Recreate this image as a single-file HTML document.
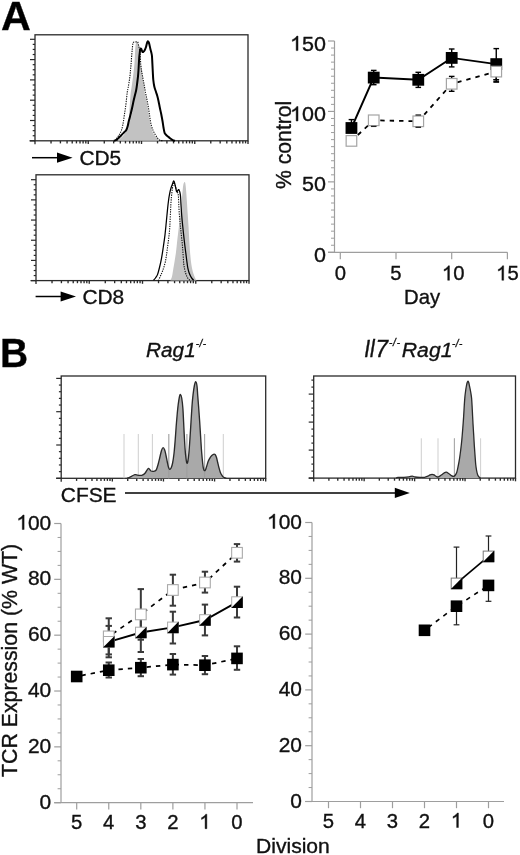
<!DOCTYPE html>
<html><head><meta charset="utf-8"><style>
html,body{margin:0;padding:0;background:#fff;width:520px;height:855px;overflow:hidden}
svg{display:block;will-change:transform}
text{font-family:"Liberation Sans",sans-serif;stroke:#111;stroke-width:0.35px}
</style></head><body>
<svg width="520" height="855" viewBox="0 0 520 855">
<rect width="520" height="855" fill="#fff"/>
<text x="1" y="30" font-size="41.3" text-anchor="start" font-weight="bold" font-style="normal" fill="#000" >A</text>
<text x="0" y="0" font-size="41.5" text-anchor="start" font-weight="bold" font-style="normal" fill="#000" transform="translate(0.1,366.6) scale(0.94,1)" >B</text>
<line x1="30" y1="39.3" x2="35" y2="39.3" stroke="#2a2a2a" stroke-width="1.2" />
<line x1="30" y1="59.6" x2="35" y2="59.6" stroke="#2a2a2a" stroke-width="1.2" />
<line x1="30" y1="79.9" x2="35" y2="79.9" stroke="#2a2a2a" stroke-width="1.2" />
<line x1="30" y1="100.2" x2="35" y2="100.2" stroke="#2a2a2a" stroke-width="1.2" />
<line x1="30" y1="120.5" x2="35" y2="120.5" stroke="#2a2a2a" stroke-width="1.2" />
<line x1="30" y1="140.8" x2="35" y2="140.8" stroke="#2a2a2a" stroke-width="1.2" />
<line x1="32.7" y1="44.38" x2="35" y2="44.38" stroke="#2a2a2a" stroke-width="1.2" />
<line x1="32.7" y1="49.45" x2="35" y2="49.45" stroke="#2a2a2a" stroke-width="1.2" />
<line x1="32.7" y1="54.52" x2="35" y2="54.52" stroke="#2a2a2a" stroke-width="1.2" />
<line x1="32.7" y1="64.67" x2="35" y2="64.67" stroke="#2a2a2a" stroke-width="1.2" />
<line x1="32.7" y1="69.75" x2="35" y2="69.75" stroke="#2a2a2a" stroke-width="1.2" />
<line x1="32.7" y1="74.83" x2="35" y2="74.83" stroke="#2a2a2a" stroke-width="1.2" />
<line x1="32.7" y1="84.98" x2="35" y2="84.98" stroke="#2a2a2a" stroke-width="1.2" />
<line x1="32.7" y1="90.05" x2="35" y2="90.05" stroke="#2a2a2a" stroke-width="1.2" />
<line x1="32.7" y1="95.12" x2="35" y2="95.12" stroke="#2a2a2a" stroke-width="1.2" />
<line x1="32.7" y1="105.28" x2="35" y2="105.28" stroke="#2a2a2a" stroke-width="1.2" />
<line x1="32.7" y1="110.35" x2="35" y2="110.35" stroke="#2a2a2a" stroke-width="1.2" />
<line x1="32.7" y1="115.42" x2="35" y2="115.42" stroke="#2a2a2a" stroke-width="1.2" />
<line x1="32.7" y1="125.58" x2="35" y2="125.58" stroke="#2a2a2a" stroke-width="1.2" />
<line x1="32.7" y1="130.65" x2="35" y2="130.65" stroke="#2a2a2a" stroke-width="1.2" />
<line x1="32.7" y1="135.73" x2="35" y2="135.73" stroke="#2a2a2a" stroke-width="1.2" />
<line x1="51.03" y1="140.8" x2="51.03" y2="143.4" stroke="#2a2a2a" stroke-width="1.35" />
<line x1="60.41" y1="140.8" x2="60.41" y2="143.4" stroke="#2a2a2a" stroke-width="1.35" />
<line x1="67.06" y1="140.8" x2="67.06" y2="143.4" stroke="#2a2a2a" stroke-width="1.35" />
<line x1="72.22" y1="140.8" x2="72.22" y2="143.4" stroke="#2a2a2a" stroke-width="1.35" />
<line x1="76.44" y1="140.8" x2="76.44" y2="143.4" stroke="#2a2a2a" stroke-width="1.35" />
<line x1="80" y1="140.8" x2="80" y2="143.4" stroke="#2a2a2a" stroke-width="1.35" />
<line x1="83.09" y1="140.8" x2="83.09" y2="143.4" stroke="#2a2a2a" stroke-width="1.35" />
<line x1="85.81" y1="140.8" x2="85.81" y2="143.4" stroke="#2a2a2a" stroke-width="1.35" />
<line x1="88.25" y1="140.8" x2="88.25" y2="144" stroke="#2a2a2a" stroke-width="1.35" />
<line x1="104.28" y1="140.8" x2="104.28" y2="143.4" stroke="#2a2a2a" stroke-width="1.35" />
<line x1="113.66" y1="140.8" x2="113.66" y2="143.4" stroke="#2a2a2a" stroke-width="1.35" />
<line x1="120.31" y1="140.8" x2="120.31" y2="143.4" stroke="#2a2a2a" stroke-width="1.35" />
<line x1="125.47" y1="140.8" x2="125.47" y2="143.4" stroke="#2a2a2a" stroke-width="1.35" />
<line x1="129.69" y1="140.8" x2="129.69" y2="143.4" stroke="#2a2a2a" stroke-width="1.35" />
<line x1="133.25" y1="140.8" x2="133.25" y2="143.4" stroke="#2a2a2a" stroke-width="1.35" />
<line x1="136.34" y1="140.8" x2="136.34" y2="143.4" stroke="#2a2a2a" stroke-width="1.35" />
<line x1="139.06" y1="140.8" x2="139.06" y2="143.4" stroke="#2a2a2a" stroke-width="1.35" />
<line x1="141.5" y1="140.8" x2="141.5" y2="144" stroke="#2a2a2a" stroke-width="1.35" />
<line x1="157.53" y1="140.8" x2="157.53" y2="143.4" stroke="#2a2a2a" stroke-width="1.35" />
<line x1="166.91" y1="140.8" x2="166.91" y2="143.4" stroke="#2a2a2a" stroke-width="1.35" />
<line x1="173.56" y1="140.8" x2="173.56" y2="143.4" stroke="#2a2a2a" stroke-width="1.35" />
<line x1="178.72" y1="140.8" x2="178.72" y2="143.4" stroke="#2a2a2a" stroke-width="1.35" />
<line x1="182.94" y1="140.8" x2="182.94" y2="143.4" stroke="#2a2a2a" stroke-width="1.35" />
<line x1="186.5" y1="140.8" x2="186.5" y2="143.4" stroke="#2a2a2a" stroke-width="1.35" />
<line x1="189.59" y1="140.8" x2="189.59" y2="143.4" stroke="#2a2a2a" stroke-width="1.35" />
<line x1="192.31" y1="140.8" x2="192.31" y2="143.4" stroke="#2a2a2a" stroke-width="1.35" />
<line x1="194.75" y1="140.8" x2="194.75" y2="144" stroke="#2a2a2a" stroke-width="1.35" />
<line x1="210.78" y1="140.8" x2="210.78" y2="143.4" stroke="#2a2a2a" stroke-width="1.35" />
<line x1="220.16" y1="140.8" x2="220.16" y2="143.4" stroke="#2a2a2a" stroke-width="1.35" />
<line x1="226.81" y1="140.8" x2="226.81" y2="143.4" stroke="#2a2a2a" stroke-width="1.35" />
<line x1="231.97" y1="140.8" x2="231.97" y2="143.4" stroke="#2a2a2a" stroke-width="1.35" />
<line x1="236.19" y1="140.8" x2="236.19" y2="143.4" stroke="#2a2a2a" stroke-width="1.35" />
<line x1="239.75" y1="140.8" x2="239.75" y2="143.4" stroke="#2a2a2a" stroke-width="1.35" />
<line x1="242.84" y1="140.8" x2="242.84" y2="143.4" stroke="#2a2a2a" stroke-width="1.35" />
<line x1="245.56" y1="140.8" x2="245.56" y2="143.4" stroke="#2a2a2a" stroke-width="1.35" />
<line x1="248" y1="140.8" x2="248" y2="144" stroke="#2a2a2a" stroke-width="1.35" />
<line x1="35" y1="140.8" x2="35" y2="144.3" stroke="#2a2a2a" stroke-width="1.3" />
<rect x="35" y="34.8" width="213" height="106" fill="none" stroke="#2a2a2a" stroke-width="1.3"/>
<line x1="29.5" y1="140.8" x2="35" y2="140.8" stroke="#2a2a2a" stroke-width="1.3" />
<path d="M117.5,140.8 C117.93,140.42 119.18,139.3 120.1,138.5 C121.02,137.7 122.1,137 123,136 C123.9,135 124.78,133.83 125.5,132.5 C126.22,131.17 126.82,129.75 127.3,128 C127.78,126.25 128.07,124.67 128.4,122 C128.73,119.33 129.05,115.08 129.3,112 C129.55,108.92 129.68,106.5 129.9,103.5 C130.12,100.5 130.32,96.75 130.6,94 C130.88,91.25 131.27,89.33 131.6,87 C131.93,84.67 132.27,82.5 132.6,80 C132.93,77.5 133.28,74.83 133.6,72 C133.92,69.17 134.25,66.33 134.5,63 C134.75,59.67 134.92,55 135.1,52 C135.28,49 135.38,46.63 135.6,45 C135.82,43.37 136.07,42.63 136.4,42.2 C136.73,41.77 137.23,41.93 137.6,42.4 C137.97,42.87 138.32,43.9 138.6,45 C138.88,46.1 139.02,46.67 139.3,49 C139.58,51.33 139.93,55.83 140.3,59 C140.67,62.17 141.12,65.1 141.5,68 C141.88,70.9 142.22,73.57 142.6,76.4 C142.98,79.23 143.42,82.12 143.8,85 C144.18,87.88 144.53,91.37 144.9,93.7 C145.27,96.03 145.65,97.37 146,99 C146.35,100.63 146.6,101.33 147,103.5 C147.4,105.67 147.95,109.08 148.4,112 C148.85,114.92 149.22,118.33 149.7,121 C150.18,123.67 150.73,126 151.3,128 C151.87,130 152.48,131.67 153.1,133 C153.72,134.33 154.33,135.2 155,136 C155.67,136.8 156.53,137.17 157.1,137.8 C157.67,138.43 158,139.3 158.4,139.8 C158.8,140.3 159.32,140.63 159.5,140.8 Z" fill="#c2c2c2" stroke="none"/>
<path d="M115.2,140.8 C115.68,140.07 117.3,137.62 118.1,136.4 C118.9,135.18 119.45,134.5 120,133.5 C120.55,132.5 120.97,131.65 121.4,130.4 C121.83,129.15 122.25,127.57 122.6,126 C122.95,124.43 123.18,123 123.5,121 C123.82,119 124.17,116.25 124.5,114 C124.83,111.75 125.17,110 125.5,107.5 C125.83,105 126.2,101.58 126.5,99 C126.8,96.42 127.03,93.85 127.3,92 C127.57,90.15 127.8,89.57 128.1,87.9 C128.4,86.23 128.8,83.92 129.1,82 C129.4,80.08 129.67,78.4 129.9,76.4 C130.13,74.4 130.32,71.93 130.5,70 C130.68,68.07 130.82,66.97 131,64.8 C131.18,62.63 131.4,59.5 131.6,57 C131.8,54.5 132,51.97 132.2,49.8 C132.4,47.63 132.57,45.27 132.8,44 C133.03,42.73 133.15,42.53 133.6,42.2 C134.05,41.87 134.85,42.07 135.5,42 C136.15,41.93 137.03,41.47 137.5,41.8 C137.97,42.13 138.05,43.13 138.3,44 C138.55,44.87 138.77,46 139,47 C139.23,48 139.48,48.33 139.7,50 C139.92,51.67 140.12,54.53 140.3,57 C140.48,59.47 140.58,62.47 140.8,64.8 C141.02,67.13 141.3,69.07 141.6,71 C141.9,72.93 142.28,74.65 142.6,76.4 C142.92,78.15 143.22,79.97 143.5,81.5 C143.78,83.03 144.02,84.02 144.3,85.6 C144.58,87.18 144.92,89.43 145.2,91 C145.48,92.57 145.67,93.33 146,95 C146.33,96.67 146.8,98.92 147.2,101 C147.6,103.08 148.03,105.33 148.4,107.5 C148.77,109.67 149.07,111.75 149.4,114 C149.73,116.25 150.03,118.92 150.4,121 C150.77,123.08 151.15,124.93 151.6,126.5 C152.05,128.07 152.58,129.18 153.1,130.4 C153.62,131.62 154.15,132.8 154.7,133.8 C155.25,134.8 155.88,135.63 156.4,136.4 C156.92,137.17 157.28,137.8 157.8,138.4 C158.32,139 158.88,139.63 159.5,140 C160.12,140.37 160.83,140.47 161.5,140.6 C162.17,140.73 163.17,140.77 163.5,140.8" fill="none" stroke="#111" stroke-width="1.1" stroke-dasharray="1.3,1.1"/>
<path d="M114,140.8 C114.3,140.7 115.23,140.48 115.8,140.2 C116.37,139.92 116.73,139.67 117.4,139.1 C118.07,138.53 119.02,137.58 119.8,136.8 C120.58,136.02 121.32,135.2 122.1,134.4 C122.88,133.6 123.78,132.77 124.5,132 C125.22,131.23 125.87,130.8 126.4,129.8 C126.93,128.8 127.3,127.47 127.7,126 C128.1,124.53 128.43,122.5 128.8,121 C129.17,119.5 129.55,118.35 129.9,117 C130.25,115.65 130.5,114.57 130.9,112.9 C131.3,111.23 131.85,109.02 132.3,107 C132.75,104.98 133.15,102.8 133.6,100.8 C134.05,98.8 134.57,96.8 135,95 C135.43,93.2 135.83,92 136.2,90 C136.57,88 136.9,85.27 137.2,83 C137.5,80.73 137.78,78.57 138,76.4 C138.22,74.23 138.37,71.93 138.5,70 C138.63,68.07 138.68,66.8 138.8,64.8 C138.92,62.8 139.05,59.92 139.2,58 C139.35,56.08 139.52,54.8 139.7,53.3 C139.88,51.8 140.05,49.75 140.3,49 C140.55,48.25 140.85,48.33 141.2,48.8 C141.55,49.27 142.03,51.3 142.4,51.8 C142.77,52.3 143,52.1 143.4,51.8 C143.8,51.5 144.37,50.8 144.8,50 C145.23,49.2 145.63,48.17 146,47 C146.37,45.83 146.7,43.95 147,43 C147.3,42.05 147.5,41.38 147.8,41.3 C148.1,41.22 148.5,41.8 148.8,42.5 C149.1,43.2 149.33,44.42 149.6,45.5 C149.87,46.58 150.12,47.83 150.4,49 C150.68,50.17 151.05,51.42 151.3,52.5 C151.55,53.58 151.75,54.25 151.9,55.5 C152.05,56.75 152.1,58.25 152.2,60 C152.3,61.75 152.4,64 152.5,66 C152.6,68 152.67,69.67 152.8,72 C152.93,74.33 153.05,77.58 153.3,80 C153.55,82.42 153.85,84.5 154.3,86.5 C154.75,88.5 155.5,90.42 156,92 C156.5,93.58 156.88,94.5 157.3,96 C157.72,97.5 158.08,99.08 158.5,101 C158.92,102.92 159.35,105.33 159.8,107.5 C160.25,109.67 160.75,111.75 161.2,114 C161.65,116.25 162.12,118.75 162.5,121 C162.88,123.25 163.15,125.53 163.5,127.5 C163.85,129.47 164.15,131.55 164.6,132.8 C165.05,134.05 165.65,134.38 166.2,135 C166.75,135.62 167.27,135.95 167.9,136.5 C168.53,137.05 169.33,137.77 170,138.3 C170.67,138.83 171.32,139.33 171.9,139.7 C172.48,140.07 172.98,140.32 173.5,140.5 C174.02,140.68 174.75,140.75 175,140.8" fill="none" stroke="#000" stroke-width="2.0" stroke-linejoin="round"/>
<line x1="31" y1="179.7" x2="36" y2="179.7" stroke="#2a2a2a" stroke-width="1.2" />
<line x1="31" y1="199.88" x2="36" y2="199.88" stroke="#2a2a2a" stroke-width="1.2" />
<line x1="31" y1="220.06" x2="36" y2="220.06" stroke="#2a2a2a" stroke-width="1.2" />
<line x1="31" y1="240.24" x2="36" y2="240.24" stroke="#2a2a2a" stroke-width="1.2" />
<line x1="31" y1="260.42" x2="36" y2="260.42" stroke="#2a2a2a" stroke-width="1.2" />
<line x1="31" y1="280.6" x2="36" y2="280.6" stroke="#2a2a2a" stroke-width="1.2" />
<line x1="33.7" y1="184.75" x2="36" y2="184.75" stroke="#2a2a2a" stroke-width="1.2" />
<line x1="33.7" y1="189.79" x2="36" y2="189.79" stroke="#2a2a2a" stroke-width="1.2" />
<line x1="33.7" y1="194.84" x2="36" y2="194.84" stroke="#2a2a2a" stroke-width="1.2" />
<line x1="33.7" y1="204.93" x2="36" y2="204.93" stroke="#2a2a2a" stroke-width="1.2" />
<line x1="33.7" y1="209.97" x2="36" y2="209.97" stroke="#2a2a2a" stroke-width="1.2" />
<line x1="33.7" y1="215.02" x2="36" y2="215.02" stroke="#2a2a2a" stroke-width="1.2" />
<line x1="33.7" y1="225.11" x2="36" y2="225.11" stroke="#2a2a2a" stroke-width="1.2" />
<line x1="33.7" y1="230.15" x2="36" y2="230.15" stroke="#2a2a2a" stroke-width="1.2" />
<line x1="33.7" y1="235.2" x2="36" y2="235.2" stroke="#2a2a2a" stroke-width="1.2" />
<line x1="33.7" y1="245.29" x2="36" y2="245.29" stroke="#2a2a2a" stroke-width="1.2" />
<line x1="33.7" y1="250.33" x2="36" y2="250.33" stroke="#2a2a2a" stroke-width="1.2" />
<line x1="33.7" y1="255.38" x2="36" y2="255.38" stroke="#2a2a2a" stroke-width="1.2" />
<line x1="33.7" y1="265.47" x2="36" y2="265.47" stroke="#2a2a2a" stroke-width="1.2" />
<line x1="33.7" y1="270.51" x2="36" y2="270.51" stroke="#2a2a2a" stroke-width="1.2" />
<line x1="33.7" y1="275.56" x2="36" y2="275.56" stroke="#2a2a2a" stroke-width="1.2" />
<line x1="52.03" y1="280.6" x2="52.03" y2="283.2" stroke="#2a2a2a" stroke-width="1.35" />
<line x1="61.41" y1="280.6" x2="61.41" y2="283.2" stroke="#2a2a2a" stroke-width="1.35" />
<line x1="68.06" y1="280.6" x2="68.06" y2="283.2" stroke="#2a2a2a" stroke-width="1.35" />
<line x1="73.22" y1="280.6" x2="73.22" y2="283.2" stroke="#2a2a2a" stroke-width="1.35" />
<line x1="77.44" y1="280.6" x2="77.44" y2="283.2" stroke="#2a2a2a" stroke-width="1.35" />
<line x1="81" y1="280.6" x2="81" y2="283.2" stroke="#2a2a2a" stroke-width="1.35" />
<line x1="84.09" y1="280.6" x2="84.09" y2="283.2" stroke="#2a2a2a" stroke-width="1.35" />
<line x1="86.81" y1="280.6" x2="86.81" y2="283.2" stroke="#2a2a2a" stroke-width="1.35" />
<line x1="89.25" y1="280.6" x2="89.25" y2="283.8" stroke="#2a2a2a" stroke-width="1.35" />
<line x1="105.28" y1="280.6" x2="105.28" y2="283.2" stroke="#2a2a2a" stroke-width="1.35" />
<line x1="114.66" y1="280.6" x2="114.66" y2="283.2" stroke="#2a2a2a" stroke-width="1.35" />
<line x1="121.31" y1="280.6" x2="121.31" y2="283.2" stroke="#2a2a2a" stroke-width="1.35" />
<line x1="126.47" y1="280.6" x2="126.47" y2="283.2" stroke="#2a2a2a" stroke-width="1.35" />
<line x1="130.69" y1="280.6" x2="130.69" y2="283.2" stroke="#2a2a2a" stroke-width="1.35" />
<line x1="134.25" y1="280.6" x2="134.25" y2="283.2" stroke="#2a2a2a" stroke-width="1.35" />
<line x1="137.34" y1="280.6" x2="137.34" y2="283.2" stroke="#2a2a2a" stroke-width="1.35" />
<line x1="140.06" y1="280.6" x2="140.06" y2="283.2" stroke="#2a2a2a" stroke-width="1.35" />
<line x1="142.5" y1="280.6" x2="142.5" y2="283.8" stroke="#2a2a2a" stroke-width="1.35" />
<line x1="158.53" y1="280.6" x2="158.53" y2="283.2" stroke="#2a2a2a" stroke-width="1.35" />
<line x1="167.91" y1="280.6" x2="167.91" y2="283.2" stroke="#2a2a2a" stroke-width="1.35" />
<line x1="174.56" y1="280.6" x2="174.56" y2="283.2" stroke="#2a2a2a" stroke-width="1.35" />
<line x1="179.72" y1="280.6" x2="179.72" y2="283.2" stroke="#2a2a2a" stroke-width="1.35" />
<line x1="183.94" y1="280.6" x2="183.94" y2="283.2" stroke="#2a2a2a" stroke-width="1.35" />
<line x1="187.5" y1="280.6" x2="187.5" y2="283.2" stroke="#2a2a2a" stroke-width="1.35" />
<line x1="190.59" y1="280.6" x2="190.59" y2="283.2" stroke="#2a2a2a" stroke-width="1.35" />
<line x1="193.31" y1="280.6" x2="193.31" y2="283.2" stroke="#2a2a2a" stroke-width="1.35" />
<line x1="195.75" y1="280.6" x2="195.75" y2="283.8" stroke="#2a2a2a" stroke-width="1.35" />
<line x1="211.78" y1="280.6" x2="211.78" y2="283.2" stroke="#2a2a2a" stroke-width="1.35" />
<line x1="221.16" y1="280.6" x2="221.16" y2="283.2" stroke="#2a2a2a" stroke-width="1.35" />
<line x1="227.81" y1="280.6" x2="227.81" y2="283.2" stroke="#2a2a2a" stroke-width="1.35" />
<line x1="232.97" y1="280.6" x2="232.97" y2="283.2" stroke="#2a2a2a" stroke-width="1.35" />
<line x1="237.19" y1="280.6" x2="237.19" y2="283.2" stroke="#2a2a2a" stroke-width="1.35" />
<line x1="240.75" y1="280.6" x2="240.75" y2="283.2" stroke="#2a2a2a" stroke-width="1.35" />
<line x1="243.84" y1="280.6" x2="243.84" y2="283.2" stroke="#2a2a2a" stroke-width="1.35" />
<line x1="246.56" y1="280.6" x2="246.56" y2="283.2" stroke="#2a2a2a" stroke-width="1.35" />
<line x1="249" y1="280.6" x2="249" y2="283.8" stroke="#2a2a2a" stroke-width="1.35" />
<line x1="36" y1="280.6" x2="36" y2="284.1" stroke="#2a2a2a" stroke-width="1.3" />
<rect x="36" y="174.8" width="213" height="105.8" fill="none" stroke="#2a2a2a" stroke-width="1.3"/>
<line x1="30.5" y1="280.6" x2="36" y2="280.6" stroke="#2a2a2a" stroke-width="1.3" />
<path d="M170.3,280.6 C170.58,279.92 171.48,278.55 172,276.5 C172.52,274.45 172.93,271.05 173.4,268.3 C173.87,265.55 174.37,262.73 174.8,260 C175.23,257.27 175.58,255.23 176,251.9 C176.42,248.57 176.87,243.82 177.3,240 C177.73,236.18 178.18,232.5 178.6,229 C179.02,225.5 179.42,222.33 179.8,219 C180.18,215.67 180.57,212.17 180.9,209 C181.23,205.83 181.52,203 181.8,200 C182.08,197 182.35,193.5 182.6,191 C182.85,188.5 183.03,186.45 183.3,185 C183.57,183.55 183.9,182.7 184.2,182.3 C184.5,181.9 184.85,181.98 185.1,182.6 C185.35,183.22 185.5,184.27 185.7,186 C185.9,187.73 186.08,190.17 186.3,193 C186.52,195.83 186.77,199.5 187,203 C187.23,206.5 187.45,210.17 187.7,214 C187.95,217.83 188.2,220.97 188.5,226 C188.8,231.03 189.18,239.2 189.5,244.2 C189.82,249.2 190.1,252.7 190.4,256 C190.7,259.3 190.98,261.75 191.3,264 C191.62,266.25 191.97,267.97 192.3,269.5 C192.63,271.03 192.88,271.9 193.3,273.2 C193.72,274.5 194.27,276.07 194.8,277.3 C195.33,278.53 196.22,280.05 196.5,280.6 Z" fill="#c4c4c4" stroke="none"/>
<path d="M158.3,280.6 C158.52,280.15 159.15,278.87 159.6,277.9 C160.05,276.93 160.52,275.92 161,274.8 C161.48,273.68 162,272.53 162.5,271.2 C163,269.87 163.52,268.42 164,266.8 C164.48,265.18 165,263.38 165.4,261.5 C165.8,259.62 166.08,257.58 166.4,255.5 C166.72,253.42 166.98,251.33 167.3,249 C167.62,246.67 167.98,244 168.3,241.5 C168.62,239 168.95,236.42 169.2,234 C169.45,231.58 169.65,229.28 169.8,227 C169.95,224.72 169.98,222.8 170.1,220.3 C170.22,217.8 170.37,214.72 170.5,212 C170.63,209.28 170.73,206.67 170.9,204 C171.07,201.33 171.25,198.58 171.5,196 C171.75,193.42 172.12,190.5 172.4,188.5 C172.68,186.5 172.95,185.02 173.2,184 C173.45,182.98 173.65,182.4 173.9,182.4 C174.15,182.4 174.45,183.37 174.7,184 C174.95,184.63 175.08,185.2 175.4,186.2 C175.72,187.2 176.22,188.9 176.6,190 C176.98,191.1 177.4,191.8 177.7,192.8 C178,193.8 178.22,193.97 178.4,196 C178.58,198.03 178.65,202 178.8,205 C178.95,208 179.1,211.17 179.3,214 C179.5,216.83 179.78,219.67 180,222 C180.22,224.33 180.38,225.9 180.6,228 C180.82,230.1 181.05,232.27 181.3,234.6 C181.55,236.93 181.87,239.6 182.1,242 C182.33,244.4 182.52,246.67 182.7,249 C182.88,251.33 183.03,253.58 183.2,256 C183.37,258.42 183.48,261.42 183.7,263.5 C183.92,265.58 184.18,266.92 184.5,268.5 C184.82,270.08 185.22,271.72 185.6,273 C185.98,274.28 186.4,275.3 186.8,276.2 C187.2,277.1 187.5,277.75 188,278.4 C188.5,279.05 189.3,279.73 189.8,280.1 C190.3,280.47 190.8,280.52 191,280.6" fill="none" stroke="#111" stroke-width="1.1" stroke-dasharray="1.3,1.1"/>
<path d="M153.5,280.3 C153.83,279.92 154.83,278.95 155.5,278 C156.17,277.05 156.83,276.35 157.5,274.6 C158.17,272.85 158.83,270.2 159.5,267.5 C160.17,264.8 160.87,261.82 161.5,258.4 C162.13,254.98 162.73,250.8 163.3,247 C163.87,243.2 164.4,239.77 164.9,235.6 C165.4,231.43 165.85,226.5 166.3,222 C166.75,217.5 167.22,212.27 167.6,208.6 C167.98,204.93 168.27,202.47 168.6,200 C168.93,197.53 169.2,195.8 169.6,193.8 C170,191.8 170.55,189.57 171,188 C171.45,186.43 171.82,185.57 172.3,184.4 C172.78,183.23 173.4,180.77 173.9,181 C174.4,181.23 174.85,184 175.3,185.8 C175.75,187.6 176.18,191.02 176.6,191.8 C177.02,192.58 177.4,190.83 177.8,190.5 C178.2,190.17 178.57,189.02 179,189.8 C179.43,190.58 180.07,192.67 180.4,195.2 C180.73,197.73 180.78,201.63 181,205 C181.22,208.37 181.42,211.9 181.7,215.4 C181.98,218.9 182.37,222.63 182.7,226 C183.03,229.37 183.37,232.52 183.7,235.6 C184.03,238.68 184.35,241.6 184.7,244.5 C185.05,247.4 185.45,250.25 185.8,253 C186.15,255.75 186.47,258.52 186.8,261 C187.13,263.48 187.43,265.98 187.8,267.9 C188.17,269.82 188.55,271.15 189,272.5 C189.45,273.85 190,275 190.5,276 C191,277 191.45,277.78 192,278.5 C192.55,279.22 193.5,280 193.8,280.3" fill="none" stroke="#000" stroke-width="1.25" stroke-linejoin="round"/>
<line x1="32" y1="157.7" x2="58" y2="157.7" stroke="#000" stroke-width="1.5" />
<polygon points="57,152.6 72.6,157.7 57,162.8" fill="#000"/>
<text x="0" y="0" font-size="20.3" text-anchor="start" font-weight="normal" font-style="normal" fill="#111" transform="translate(79.4,165.3) scale(1.03,1)" >CD5</text>
<line x1="35.6" y1="296.5" x2="61.6" y2="296.5" stroke="#000" stroke-width="1.5" />
<polygon points="60.6,291.4 76,296.5 60.6,301.6" fill="#000"/>
<text x="0" y="0" font-size="20.3" text-anchor="start" font-weight="normal" font-style="normal" fill="#111" transform="translate(82.4,304.1) scale(1.03,1)" >CD8</text>
<line x1="334.5" y1="41" x2="334.5" y2="252.3" stroke="#9e9e9e" stroke-width="1.2" />
<line x1="328" y1="252.3" x2="507.4" y2="252.3" stroke="#9e9e9e" stroke-width="1.2" />
<line x1="328" y1="252.3" x2="334.5" y2="252.3" stroke="#9e9e9e" stroke-width="1.2" />
<line x1="331" y1="245.26" x2="334.5" y2="245.26" stroke="#9e9e9e" stroke-width="1" />
<line x1="331" y1="238.21" x2="334.5" y2="238.21" stroke="#9e9e9e" stroke-width="1" />
<line x1="331" y1="231.17" x2="334.5" y2="231.17" stroke="#9e9e9e" stroke-width="1" />
<line x1="331" y1="224.13" x2="334.5" y2="224.13" stroke="#9e9e9e" stroke-width="1" />
<line x1="331" y1="217.08" x2="334.5" y2="217.08" stroke="#9e9e9e" stroke-width="1" />
<line x1="331" y1="210.04" x2="334.5" y2="210.04" stroke="#9e9e9e" stroke-width="1" />
<line x1="331" y1="203" x2="334.5" y2="203" stroke="#9e9e9e" stroke-width="1" />
<line x1="331" y1="195.95" x2="334.5" y2="195.95" stroke="#9e9e9e" stroke-width="1" />
<line x1="331" y1="188.91" x2="334.5" y2="188.91" stroke="#9e9e9e" stroke-width="1" />
<line x1="328" y1="181.87" x2="334.5" y2="181.87" stroke="#9e9e9e" stroke-width="1.2" />
<line x1="331" y1="174.82" x2="334.5" y2="174.82" stroke="#9e9e9e" stroke-width="1" />
<line x1="331" y1="167.78" x2="334.5" y2="167.78" stroke="#9e9e9e" stroke-width="1" />
<line x1="331" y1="160.74" x2="334.5" y2="160.74" stroke="#9e9e9e" stroke-width="1" />
<line x1="331" y1="153.69" x2="334.5" y2="153.69" stroke="#9e9e9e" stroke-width="1" />
<line x1="331" y1="146.65" x2="334.5" y2="146.65" stroke="#9e9e9e" stroke-width="1" />
<line x1="331" y1="139.61" x2="334.5" y2="139.61" stroke="#9e9e9e" stroke-width="1" />
<line x1="331" y1="132.56" x2="334.5" y2="132.56" stroke="#9e9e9e" stroke-width="1" />
<line x1="331" y1="125.52" x2="334.5" y2="125.52" stroke="#9e9e9e" stroke-width="1" />
<line x1="331" y1="118.48" x2="334.5" y2="118.48" stroke="#9e9e9e" stroke-width="1" />
<line x1="328" y1="111.43" x2="334.5" y2="111.43" stroke="#9e9e9e" stroke-width="1.2" />
<line x1="331" y1="104.39" x2="334.5" y2="104.39" stroke="#9e9e9e" stroke-width="1" />
<line x1="331" y1="97.35" x2="334.5" y2="97.35" stroke="#9e9e9e" stroke-width="1" />
<line x1="331" y1="90.3" x2="334.5" y2="90.3" stroke="#9e9e9e" stroke-width="1" />
<line x1="331" y1="83.26" x2="334.5" y2="83.26" stroke="#9e9e9e" stroke-width="1" />
<line x1="331" y1="76.22" x2="334.5" y2="76.22" stroke="#9e9e9e" stroke-width="1" />
<line x1="331" y1="69.17" x2="334.5" y2="69.17" stroke="#9e9e9e" stroke-width="1" />
<line x1="331" y1="62.13" x2="334.5" y2="62.13" stroke="#9e9e9e" stroke-width="1" />
<line x1="331" y1="55.09" x2="334.5" y2="55.09" stroke="#9e9e9e" stroke-width="1" />
<line x1="331" y1="48.04" x2="334.5" y2="48.04" stroke="#9e9e9e" stroke-width="1" />
<line x1="328" y1="41" x2="334.5" y2="41" stroke="#9e9e9e" stroke-width="1.2" />
<line x1="340.3" y1="252.3" x2="340.3" y2="259.2" stroke="#9e9e9e" stroke-width="1.2" />
<line x1="396" y1="252.3" x2="396" y2="259.2" stroke="#9e9e9e" stroke-width="1.2" />
<line x1="451.7" y1="252.3" x2="451.7" y2="259.2" stroke="#9e9e9e" stroke-width="1.2" />
<line x1="507.4" y1="252.3" x2="507.4" y2="259.2" stroke="#9e9e9e" stroke-width="1.2" />
<text x="0" y="0" font-size="20.3" text-anchor="start" font-weight="normal" font-style="normal" fill="#111" transform="translate(313.94,261.9) scale(1.06,1)" >0</text>
<text x="0" y="0" font-size="20.3" text-anchor="start" font-weight="normal" font-style="normal" fill="#111" transform="translate(301.97,191.47) scale(1.06,1)" >5</text>
<text x="0" y="0" font-size="20.3" text-anchor="start" font-weight="normal" font-style="normal" fill="#111" transform="translate(313.94,191.47) scale(1.06,1)" >0</text>
<path d="M0.3726,0 L0.2847,0 L0.2847,-0.56 Q0.2529,-0.5298 0.2014,-0.4995 Q0.1499,-0.4692 0.1089,-0.4541 L0.1089,-0.5391 Q0.1826,-0.5737 0.2371,-0.6223 Q0.2915,-0.6709 0.3159,-0.7158 L0.3726,-0.7158 Z" transform="translate(290.01,121.03) scale(21.52,20.3)" fill="#111" stroke="#111" stroke-width="0.02"/>
<text x="0" y="0" font-size="20.3" text-anchor="start" font-weight="normal" font-style="normal" fill="#111" transform="translate(301.97,121.03) scale(1.06,1)" >0</text>
<text x="0" y="0" font-size="20.3" text-anchor="start" font-weight="normal" font-style="normal" fill="#111" transform="translate(313.94,121.03) scale(1.06,1)" >0</text>
<path d="M0.3726,0 L0.2847,0 L0.2847,-0.56 Q0.2529,-0.5298 0.2014,-0.4995 Q0.1499,-0.4692 0.1089,-0.4541 L0.1089,-0.5391 Q0.1826,-0.5737 0.2371,-0.6223 Q0.2915,-0.6709 0.3159,-0.7158 L0.3726,-0.7158 Z" transform="translate(290.01,50.6) scale(21.52,20.3)" fill="#111" stroke="#111" stroke-width="0.02"/>
<text x="0" y="0" font-size="20.3" text-anchor="start" font-weight="normal" font-style="normal" fill="#111" transform="translate(301.97,50.6) scale(1.06,1)" >5</text>
<text x="0" y="0" font-size="20.3" text-anchor="start" font-weight="normal" font-style="normal" fill="#111" transform="translate(313.94,50.6) scale(1.06,1)" >0</text>
<text x="334.66" y="280.3" font-size="20.3" text-anchor="start" font-weight="normal" font-style="normal" fill="#111" >0</text>
<text x="390.36" y="280.3" font-size="20.3" text-anchor="start" font-weight="normal" font-style="normal" fill="#111" >5</text>
<path d="M0.3726,0 L0.2847,0 L0.2847,-0.56 Q0.2529,-0.5298 0.2014,-0.4995 Q0.1499,-0.4692 0.1089,-0.4541 L0.1089,-0.5391 Q0.1826,-0.5737 0.2371,-0.6223 Q0.2915,-0.6709 0.3159,-0.7158 L0.3726,-0.7158 Z" transform="translate(441.91,280.3) scale(20.3,20.3)" fill="#111" stroke="#111" stroke-width="0.02"/>
<text x="453.2" y="280.3" font-size="20.3" text-anchor="start" font-weight="normal" font-style="normal" fill="#111" >0</text>
<path d="M0.3726,0 L0.2847,0 L0.2847,-0.56 Q0.2529,-0.5298 0.2014,-0.4995 Q0.1499,-0.4692 0.1089,-0.4541 L0.1089,-0.5391 Q0.1826,-0.5737 0.2371,-0.6223 Q0.2915,-0.6709 0.3159,-0.7158 L0.3726,-0.7158 Z" transform="translate(496.11,280.3) scale(20.3,20.3)" fill="#111" stroke="#111" stroke-width="0.02"/>
<text x="507.4" y="280.3" font-size="20.3" text-anchor="start" font-weight="normal" font-style="normal" fill="#111" >5</text>
<text x="404" y="304" font-size="20.3" text-anchor="start" font-weight="normal" font-style="normal" fill="#111" >Day</text>
<text x="0" y="0" font-size="21.2" text-anchor="start" font-weight="normal" font-style="normal" fill="#111" transform="translate(291.2,189) rotate(-90) scale(1,1)" >% control</text>
<polyline points="351.44,128 373.72,77.6 418.28,79.8 451.7,57.9 496.26,64.1" fill="none" stroke="#000" stroke-width="1.9"/>
<line x1="351.44" y1="119.6" x2="351.44" y2="128" stroke="#000" stroke-width="1.4" />
<line x1="348.64" y1="119.6" x2="354.24" y2="119.6" stroke="#000" stroke-width="1.4" />
<line x1="348.64" y1="128" x2="354.24" y2="128" stroke="#000" stroke-width="1.4" />
<line x1="373.72" y1="70.4" x2="373.72" y2="84.7" stroke="#000" stroke-width="1.4" />
<line x1="370.92" y1="70.4" x2="376.52" y2="70.4" stroke="#000" stroke-width="1.4" />
<line x1="370.92" y1="84.7" x2="376.52" y2="84.7" stroke="#000" stroke-width="1.4" />
<line x1="418.28" y1="72.3" x2="418.28" y2="87.4" stroke="#000" stroke-width="1.4" />
<line x1="415.48" y1="72.3" x2="421.08" y2="72.3" stroke="#000" stroke-width="1.4" />
<line x1="415.48" y1="87.4" x2="421.08" y2="87.4" stroke="#000" stroke-width="1.4" />
<line x1="451.7" y1="49" x2="451.7" y2="66.9" stroke="#000" stroke-width="1.4" />
<line x1="448.9" y1="49" x2="454.5" y2="49" stroke="#000" stroke-width="1.4" />
<line x1="448.9" y1="66.9" x2="454.5" y2="66.9" stroke="#000" stroke-width="1.4" />
<line x1="496.26" y1="48.6" x2="496.26" y2="79.7" stroke="#000" stroke-width="1.4" />
<line x1="493.46" y1="48.6" x2="499.06" y2="48.6" stroke="#000" stroke-width="1.4" />
<line x1="493.46" y1="79.7" x2="499.06" y2="79.7" stroke="#000" stroke-width="1.4" />
<rect x="345.54" y="122.1" width="11.8" height="11.8" fill="#000"/>
<rect x="367.82" y="71.7" width="11.8" height="11.8" fill="#000"/>
<rect x="412.38" y="73.9" width="11.8" height="11.8" fill="#000"/>
<rect x="445.8" y="52" width="11.8" height="11.8" fill="#000"/>
<rect x="490.36" y="58.2" width="11.8" height="11.8" fill="#000"/>
<polyline points="351.44,140.9 373.72,120.3 418.28,121.3 451.7,83.8 496.26,71.6" fill="none" stroke="#000" stroke-width="1.8" stroke-dasharray="4.4,5" stroke-dashoffset="0.7"/>
<line x1="451.7" y1="76.4" x2="451.7" y2="91.3" stroke="#000" stroke-width="1.4" />
<line x1="448.9" y1="76.4" x2="454.5" y2="76.4" stroke="#000" stroke-width="1.4" />
<line x1="448.9" y1="91.3" x2="454.5" y2="91.3" stroke="#000" stroke-width="1.4" />
<line x1="496.26" y1="71.6" x2="496.26" y2="81.9" stroke="#000" stroke-width="1.4" />
<line x1="493.46" y1="71.6" x2="499.06" y2="71.6" stroke="#000" stroke-width="1.4" />
<line x1="493.46" y1="81.9" x2="499.06" y2="81.9" stroke="#000" stroke-width="1.4" />
<rect x="346.14" y="135.6" width="10.6" height="10.6" fill="#fff" stroke="#a4a4a4" stroke-width="1.2"/>
<rect x="368.42" y="115" width="10.6" height="10.6" fill="#fff" stroke="#a4a4a4" stroke-width="1.2"/>
<rect x="412.98" y="116" width="10.6" height="10.6" fill="#fff" stroke="#a4a4a4" stroke-width="1.2"/>
<rect x="446.4" y="78.5" width="10.6" height="10.6" fill="#fff" stroke="#a4a4a4" stroke-width="1.2"/>
<rect x="490.96" y="66.3" width="10.6" height="10.6" fill="#fff" stroke="#a4a4a4" stroke-width="1.2"/>
<line x1="415.48" y1="115" x2="421.08" y2="115" stroke="#222" stroke-width="1.3" />
<line x1="415.48" y1="127.3" x2="421.08" y2="127.3" stroke="#222" stroke-width="1.3" />
<line x1="370.92" y1="126.4" x2="376.52" y2="126.4" stroke="#222" stroke-width="1.3" />
<line x1="493.46" y1="81.9" x2="499.06" y2="81.9" stroke="#000" stroke-width="1.4" />
<line x1="493.46" y1="79.7" x2="499.06" y2="79.7" stroke="#000" stroke-width="1.4" />
<text x="146" y="356.5" font-size="20.8" text-anchor="start" font-weight="normal" font-style="italic" fill="#111" >Rag1</text>
<text x="195.8" y="347.1" font-size="10" text-anchor="start" font-weight="normal" font-style="italic" fill="#111" letter-spacing="0.4" stroke-width="0.3">-/-</text>
<text x="0" y="0" font-size="21" text-anchor="start" font-weight="normal" font-style="italic" fill="#111" transform="translate(364.2,356.5) scale(1,1.1)" >Il</text>
<text x="0" y="0" font-size="21" text-anchor="start" font-weight="normal" font-style="italic" fill="#111" transform="translate(375.5,356.5) scale(1.07,1.1)" >7</text>
<text x="388.9" y="346.4" font-size="10" text-anchor="start" font-weight="normal" font-style="italic" fill="#111" letter-spacing="0.9" stroke-width="0.3">-/-</text>
<text x="0" y="0" font-size="20.8" text-anchor="start" font-weight="normal" font-style="italic" fill="#111" transform="translate(401.8,356.5) scale(1.02,1)" >Rag1</text>
<text x="452" y="347" font-size="10" text-anchor="start" font-weight="normal" font-style="italic" fill="#111" letter-spacing="0.4" stroke-width="0.3">-/-</text>
<line x1="56.2" y1="378.4" x2="61.2" y2="378.4" stroke="#2a2a2a" stroke-width="1.2" />
<line x1="56.2" y1="411.7" x2="61.2" y2="411.7" stroke="#2a2a2a" stroke-width="1.2" />
<line x1="56.2" y1="445" x2="61.2" y2="445" stroke="#2a2a2a" stroke-width="1.2" />
<line x1="56.2" y1="478.3" x2="61.2" y2="478.3" stroke="#2a2a2a" stroke-width="1.2" />
<line x1="58.9" y1="385.06" x2="61.2" y2="385.06" stroke="#2a2a2a" stroke-width="1.2" />
<line x1="58.9" y1="391.72" x2="61.2" y2="391.72" stroke="#2a2a2a" stroke-width="1.2" />
<line x1="58.9" y1="398.38" x2="61.2" y2="398.38" stroke="#2a2a2a" stroke-width="1.2" />
<line x1="58.9" y1="405.04" x2="61.2" y2="405.04" stroke="#2a2a2a" stroke-width="1.2" />
<line x1="58.9" y1="418.36" x2="61.2" y2="418.36" stroke="#2a2a2a" stroke-width="1.2" />
<line x1="58.9" y1="425.02" x2="61.2" y2="425.02" stroke="#2a2a2a" stroke-width="1.2" />
<line x1="58.9" y1="431.68" x2="61.2" y2="431.68" stroke="#2a2a2a" stroke-width="1.2" />
<line x1="58.9" y1="438.34" x2="61.2" y2="438.34" stroke="#2a2a2a" stroke-width="1.2" />
<line x1="58.9" y1="451.66" x2="61.2" y2="451.66" stroke="#2a2a2a" stroke-width="1.2" />
<line x1="58.9" y1="458.32" x2="61.2" y2="458.32" stroke="#2a2a2a" stroke-width="1.2" />
<line x1="58.9" y1="464.98" x2="61.2" y2="464.98" stroke="#2a2a2a" stroke-width="1.2" />
<line x1="58.9" y1="471.64" x2="61.2" y2="471.64" stroke="#2a2a2a" stroke-width="1.2" />
<line x1="76.59" y1="478.3" x2="76.59" y2="480.9" stroke="#2a2a2a" stroke-width="1.35" />
<line x1="85.59" y1="478.3" x2="85.59" y2="480.9" stroke="#2a2a2a" stroke-width="1.35" />
<line x1="91.98" y1="478.3" x2="91.98" y2="480.9" stroke="#2a2a2a" stroke-width="1.35" />
<line x1="96.93" y1="478.3" x2="96.93" y2="480.9" stroke="#2a2a2a" stroke-width="1.35" />
<line x1="100.98" y1="478.3" x2="100.98" y2="480.9" stroke="#2a2a2a" stroke-width="1.35" />
<line x1="104.41" y1="478.3" x2="104.41" y2="480.9" stroke="#2a2a2a" stroke-width="1.35" />
<line x1="107.37" y1="478.3" x2="107.37" y2="480.9" stroke="#2a2a2a" stroke-width="1.35" />
<line x1="109.99" y1="478.3" x2="109.99" y2="480.9" stroke="#2a2a2a" stroke-width="1.35" />
<line x1="112.33" y1="478.3" x2="112.33" y2="481.5" stroke="#2a2a2a" stroke-width="1.35" />
<line x1="127.72" y1="478.3" x2="127.72" y2="480.9" stroke="#2a2a2a" stroke-width="1.35" />
<line x1="136.72" y1="478.3" x2="136.72" y2="480.9" stroke="#2a2a2a" stroke-width="1.35" />
<line x1="143.11" y1="478.3" x2="143.11" y2="480.9" stroke="#2a2a2a" stroke-width="1.35" />
<line x1="148.06" y1="478.3" x2="148.06" y2="480.9" stroke="#2a2a2a" stroke-width="1.35" />
<line x1="152.11" y1="478.3" x2="152.11" y2="480.9" stroke="#2a2a2a" stroke-width="1.35" />
<line x1="155.53" y1="478.3" x2="155.53" y2="480.9" stroke="#2a2a2a" stroke-width="1.35" />
<line x1="158.5" y1="478.3" x2="158.5" y2="480.9" stroke="#2a2a2a" stroke-width="1.35" />
<line x1="161.11" y1="478.3" x2="161.11" y2="480.9" stroke="#2a2a2a" stroke-width="1.35" />
<line x1="163.45" y1="478.3" x2="163.45" y2="481.5" stroke="#2a2a2a" stroke-width="1.35" />
<line x1="178.84" y1="478.3" x2="178.84" y2="480.9" stroke="#2a2a2a" stroke-width="1.35" />
<line x1="187.84" y1="478.3" x2="187.84" y2="480.9" stroke="#2a2a2a" stroke-width="1.35" />
<line x1="194.23" y1="478.3" x2="194.23" y2="480.9" stroke="#2a2a2a" stroke-width="1.35" />
<line x1="199.18" y1="478.3" x2="199.18" y2="480.9" stroke="#2a2a2a" stroke-width="1.35" />
<line x1="203.23" y1="478.3" x2="203.23" y2="480.9" stroke="#2a2a2a" stroke-width="1.35" />
<line x1="206.66" y1="478.3" x2="206.66" y2="480.9" stroke="#2a2a2a" stroke-width="1.35" />
<line x1="209.62" y1="478.3" x2="209.62" y2="480.9" stroke="#2a2a2a" stroke-width="1.35" />
<line x1="212.24" y1="478.3" x2="212.24" y2="480.9" stroke="#2a2a2a" stroke-width="1.35" />
<line x1="214.57" y1="478.3" x2="214.57" y2="481.5" stroke="#2a2a2a" stroke-width="1.35" />
<line x1="229.97" y1="478.3" x2="229.97" y2="480.9" stroke="#2a2a2a" stroke-width="1.35" />
<line x1="238.97" y1="478.3" x2="238.97" y2="480.9" stroke="#2a2a2a" stroke-width="1.35" />
<line x1="245.36" y1="478.3" x2="245.36" y2="480.9" stroke="#2a2a2a" stroke-width="1.35" />
<line x1="250.31" y1="478.3" x2="250.31" y2="480.9" stroke="#2a2a2a" stroke-width="1.35" />
<line x1="254.36" y1="478.3" x2="254.36" y2="480.9" stroke="#2a2a2a" stroke-width="1.35" />
<line x1="257.78" y1="478.3" x2="257.78" y2="480.9" stroke="#2a2a2a" stroke-width="1.35" />
<line x1="260.75" y1="478.3" x2="260.75" y2="480.9" stroke="#2a2a2a" stroke-width="1.35" />
<line x1="263.36" y1="478.3" x2="263.36" y2="480.9" stroke="#2a2a2a" stroke-width="1.35" />
<line x1="265.7" y1="478.3" x2="265.7" y2="481.5" stroke="#2a2a2a" stroke-width="1.35" />
<line x1="61.2" y1="478.3" x2="61.2" y2="481.8" stroke="#2a2a2a" stroke-width="1.3" />
<rect x="61.2" y="376" width="204.5" height="102.3" fill="none" stroke="#2a2a2a" stroke-width="1.3"/>
<line x1="56.2" y1="478.3" x2="61.2" y2="478.3" stroke="#2a2a2a" stroke-width="1.3" />
<line x1="124" y1="434" x2="124" y2="478.3" stroke="#c9c9c9" stroke-width="0.9" />
<line x1="138.3" y1="434" x2="138.3" y2="478.3" stroke="#c9c9c9" stroke-width="0.9" />
<line x1="152.4" y1="434" x2="152.4" y2="478.3" stroke="#c9c9c9" stroke-width="0.9" />
<line x1="168.8" y1="434" x2="168.8" y2="478.3" stroke="#c9c9c9" stroke-width="0.9" />
<line x1="186.9" y1="434" x2="186.9" y2="478.3" stroke="#c9c9c9" stroke-width="0.9" />
<line x1="204.6" y1="434" x2="204.6" y2="478.3" stroke="#c9c9c9" stroke-width="0.9" />
<line x1="223.3" y1="434" x2="223.3" y2="478.3" stroke="#c9c9c9" stroke-width="0.9" />
<path d="M127,478.3 C127.33,478.18 128.25,477.93 129,477.6 C129.75,477.27 130.52,476.8 131.5,476.3 C132.48,475.8 133.88,474.8 134.9,474.6 C135.92,474.4 136.75,474.98 137.6,475.1 C138.45,475.22 139.22,475.3 140,475.3 C140.78,475.3 141.47,475.45 142.3,475.1 C143.13,474.75 143.98,474.32 145,473.2 C146.02,472.08 147.4,468.77 148.4,468.4 C149.4,468.03 150,470.55 151,471 C152,471.45 153.5,471.33 154.4,471.1 C155.3,470.87 155.77,470.78 156.4,469.6 C157.03,468.42 157.63,466.02 158.2,464 C158.77,461.98 159.25,459.75 159.8,457.5 C160.35,455.25 160.95,452.13 161.5,450.5 C162.05,448.87 162.57,447.78 163.1,447.7 C163.63,447.62 164.23,448.78 164.7,450 C165.17,451.22 165.47,453 165.9,455 C166.33,457 166.87,459.95 167.3,462 C167.73,464.05 168.1,466.08 168.5,467.3 C168.9,468.52 169.25,469.22 169.7,469.3 C170.15,469.38 170.72,468.85 171.2,467.8 C171.68,466.75 172.13,465.38 172.6,463 C173.07,460.62 173.57,457.33 174,453.5 C174.43,449.67 174.83,444.58 175.2,440 C175.57,435.42 175.85,430.5 176.2,426 C176.55,421.5 176.97,416.57 177.3,413 C177.63,409.43 177.85,407.27 178.2,404.6 C178.55,401.93 179.02,398.68 179.4,397 C179.78,395.32 180.12,394.33 180.5,394.5 C180.88,394.67 181.3,395.65 181.7,398 C182.1,400.35 182.52,403.27 182.9,408.6 C183.28,413.93 183.65,423.43 184,430 C184.35,436.57 184.67,443.25 185,448 C185.33,452.75 185.68,455.97 186,458.5 C186.32,461.03 186.58,462.78 186.9,463.2 C187.22,463.62 187.57,462.7 187.9,461 C188.23,459.3 188.55,456.83 188.9,453 C189.25,449.17 189.65,443.17 190,438 C190.35,432.83 190.67,427.33 191,422 C191.33,416.67 191.67,410.47 192,406 C192.33,401.53 192.6,398.62 193,395.2 C193.4,391.78 193.95,387.75 194.4,385.5 C194.85,383.25 195.27,381.62 195.7,381.7 C196.13,381.78 196.67,383.75 197,386 C197.33,388.25 197.42,391.53 197.7,395.2 C197.98,398.87 198.37,403.53 198.7,408 C199.03,412.47 199.37,417 199.7,422 C200.03,427 200.37,432.83 200.7,438 C201.03,443.17 201.27,448.02 201.7,453 C202.13,457.98 202.73,464.97 203.3,467.9 C203.87,470.83 204.55,470.83 205.1,470.6 C205.65,470.37 206.08,468.05 206.6,466.5 C207.12,464.95 207.63,462.75 208.2,461.3 C208.77,459.85 209.4,458.75 210,457.8 C210.6,456.85 211.22,456.18 211.8,455.6 C212.38,455.02 212.95,454.48 213.5,454.3 C214.05,454.12 214.6,453.97 215.1,454.5 C215.6,455.03 216.07,456.17 216.5,457.5 C216.93,458.83 217.3,460.83 217.7,462.5 C218.1,464.17 218.48,465.93 218.9,467.5 C219.32,469.07 219.72,470.62 220.2,471.9 C220.68,473.18 221.23,474.3 221.8,475.2 C222.37,476.1 222.85,476.78 223.6,477.3 C224.35,477.82 225.85,478.13 226.3,478.3 Z" fill="#a9a9a9" stroke="none"/>
<line x1="168.8" y1="434" x2="168.8" y2="478.3" stroke="#999" stroke-width="0.8" />
<line x1="186.9" y1="434" x2="186.9" y2="478.3" stroke="#999" stroke-width="0.8" />
<line x1="204.6" y1="434" x2="204.6" y2="478.3" stroke="#999" stroke-width="0.8" />
<path d="M127,478.3 C127.33,478.18 128.25,477.93 129,477.6 C129.75,477.27 130.52,476.8 131.5,476.3 C132.48,475.8 133.88,474.8 134.9,474.6 C135.92,474.4 136.75,474.98 137.6,475.1 C138.45,475.22 139.22,475.3 140,475.3 C140.78,475.3 141.47,475.45 142.3,475.1 C143.13,474.75 143.98,474.32 145,473.2 C146.02,472.08 147.4,468.77 148.4,468.4 C149.4,468.03 150,470.55 151,471 C152,471.45 153.5,471.33 154.4,471.1 C155.3,470.87 155.77,470.78 156.4,469.6 C157.03,468.42 157.63,466.02 158.2,464 C158.77,461.98 159.25,459.75 159.8,457.5 C160.35,455.25 160.95,452.13 161.5,450.5 C162.05,448.87 162.57,447.78 163.1,447.7 C163.63,447.62 164.23,448.78 164.7,450 C165.17,451.22 165.47,453 165.9,455 C166.33,457 166.87,459.95 167.3,462 C167.73,464.05 168.1,466.08 168.5,467.3 C168.9,468.52 169.25,469.22 169.7,469.3 C170.15,469.38 170.72,468.85 171.2,467.8 C171.68,466.75 172.13,465.38 172.6,463 C173.07,460.62 173.57,457.33 174,453.5 C174.43,449.67 174.83,444.58 175.2,440 C175.57,435.42 175.85,430.5 176.2,426 C176.55,421.5 176.97,416.57 177.3,413 C177.63,409.43 177.85,407.27 178.2,404.6 C178.55,401.93 179.02,398.68 179.4,397 C179.78,395.32 180.12,394.33 180.5,394.5 C180.88,394.67 181.3,395.65 181.7,398 C182.1,400.35 182.52,403.27 182.9,408.6 C183.28,413.93 183.65,423.43 184,430 C184.35,436.57 184.67,443.25 185,448 C185.33,452.75 185.68,455.97 186,458.5 C186.32,461.03 186.58,462.78 186.9,463.2 C187.22,463.62 187.57,462.7 187.9,461 C188.23,459.3 188.55,456.83 188.9,453 C189.25,449.17 189.65,443.17 190,438 C190.35,432.83 190.67,427.33 191,422 C191.33,416.67 191.67,410.47 192,406 C192.33,401.53 192.6,398.62 193,395.2 C193.4,391.78 193.95,387.75 194.4,385.5 C194.85,383.25 195.27,381.62 195.7,381.7 C196.13,381.78 196.67,383.75 197,386 C197.33,388.25 197.42,391.53 197.7,395.2 C197.98,398.87 198.37,403.53 198.7,408 C199.03,412.47 199.37,417 199.7,422 C200.03,427 200.37,432.83 200.7,438 C201.03,443.17 201.27,448.02 201.7,453 C202.13,457.98 202.73,464.97 203.3,467.9 C203.87,470.83 204.55,470.83 205.1,470.6 C205.65,470.37 206.08,468.05 206.6,466.5 C207.12,464.95 207.63,462.75 208.2,461.3 C208.77,459.85 209.4,458.75 210,457.8 C210.6,456.85 211.22,456.18 211.8,455.6 C212.38,455.02 212.95,454.48 213.5,454.3 C214.05,454.12 214.6,453.97 215.1,454.5 C215.6,455.03 216.07,456.17 216.5,457.5 C216.93,458.83 217.3,460.83 217.7,462.5 C218.1,464.17 218.48,465.93 218.9,467.5 C219.32,469.07 219.72,470.62 220.2,471.9 C220.68,473.18 221.23,474.3 221.8,475.2 C222.37,476.1 222.85,476.78 223.6,477.3 C224.35,477.82 225.85,478.13 226.3,478.3" fill="none" stroke="#2a2a2a" stroke-width="1.35" stroke-linejoin="round"/>
<line x1="308.7" y1="394.1" x2="313.7" y2="394.1" stroke="#2a2a2a" stroke-width="1.2" />
<line x1="308.7" y1="422.1" x2="313.7" y2="422.1" stroke="#2a2a2a" stroke-width="1.2" />
<line x1="308.7" y1="450.1" x2="313.7" y2="450.1" stroke="#2a2a2a" stroke-width="1.2" />
<line x1="308.7" y1="478.1" x2="313.7" y2="478.1" stroke="#2a2a2a" stroke-width="1.2" />
<line x1="311.4" y1="401.1" x2="313.7" y2="401.1" stroke="#2a2a2a" stroke-width="1.2" />
<line x1="311.4" y1="408.1" x2="313.7" y2="408.1" stroke="#2a2a2a" stroke-width="1.2" />
<line x1="311.4" y1="415.1" x2="313.7" y2="415.1" stroke="#2a2a2a" stroke-width="1.2" />
<line x1="311.4" y1="429.1" x2="313.7" y2="429.1" stroke="#2a2a2a" stroke-width="1.2" />
<line x1="311.4" y1="436.1" x2="313.7" y2="436.1" stroke="#2a2a2a" stroke-width="1.2" />
<line x1="311.4" y1="443.1" x2="313.7" y2="443.1" stroke="#2a2a2a" stroke-width="1.2" />
<line x1="311.4" y1="457.1" x2="313.7" y2="457.1" stroke="#2a2a2a" stroke-width="1.2" />
<line x1="311.4" y1="464.1" x2="313.7" y2="464.1" stroke="#2a2a2a" stroke-width="1.2" />
<line x1="311.4" y1="471.1" x2="313.7" y2="471.1" stroke="#2a2a2a" stroke-width="1.2" />
<line x1="328.89" y1="478.1" x2="328.89" y2="480.7" stroke="#2a2a2a" stroke-width="1.35" />
<line x1="337.77" y1="478.1" x2="337.77" y2="480.7" stroke="#2a2a2a" stroke-width="1.35" />
<line x1="344.07" y1="478.1" x2="344.07" y2="480.7" stroke="#2a2a2a" stroke-width="1.35" />
<line x1="348.96" y1="478.1" x2="348.96" y2="480.7" stroke="#2a2a2a" stroke-width="1.35" />
<line x1="352.96" y1="478.1" x2="352.96" y2="480.7" stroke="#2a2a2a" stroke-width="1.35" />
<line x1="356.34" y1="478.1" x2="356.34" y2="480.7" stroke="#2a2a2a" stroke-width="1.35" />
<line x1="359.26" y1="478.1" x2="359.26" y2="480.7" stroke="#2a2a2a" stroke-width="1.35" />
<line x1="361.84" y1="478.1" x2="361.84" y2="480.7" stroke="#2a2a2a" stroke-width="1.35" />
<line x1="364.15" y1="478.1" x2="364.15" y2="481.3" stroke="#2a2a2a" stroke-width="1.35" />
<line x1="379.34" y1="478.1" x2="379.34" y2="480.7" stroke="#2a2a2a" stroke-width="1.35" />
<line x1="388.22" y1="478.1" x2="388.22" y2="480.7" stroke="#2a2a2a" stroke-width="1.35" />
<line x1="394.52" y1="478.1" x2="394.52" y2="480.7" stroke="#2a2a2a" stroke-width="1.35" />
<line x1="399.41" y1="478.1" x2="399.41" y2="480.7" stroke="#2a2a2a" stroke-width="1.35" />
<line x1="403.41" y1="478.1" x2="403.41" y2="480.7" stroke="#2a2a2a" stroke-width="1.35" />
<line x1="406.79" y1="478.1" x2="406.79" y2="480.7" stroke="#2a2a2a" stroke-width="1.35" />
<line x1="409.71" y1="478.1" x2="409.71" y2="480.7" stroke="#2a2a2a" stroke-width="1.35" />
<line x1="412.29" y1="478.1" x2="412.29" y2="480.7" stroke="#2a2a2a" stroke-width="1.35" />
<line x1="414.6" y1="478.1" x2="414.6" y2="481.3" stroke="#2a2a2a" stroke-width="1.35" />
<line x1="429.79" y1="478.1" x2="429.79" y2="480.7" stroke="#2a2a2a" stroke-width="1.35" />
<line x1="438.67" y1="478.1" x2="438.67" y2="480.7" stroke="#2a2a2a" stroke-width="1.35" />
<line x1="444.97" y1="478.1" x2="444.97" y2="480.7" stroke="#2a2a2a" stroke-width="1.35" />
<line x1="449.86" y1="478.1" x2="449.86" y2="480.7" stroke="#2a2a2a" stroke-width="1.35" />
<line x1="453.86" y1="478.1" x2="453.86" y2="480.7" stroke="#2a2a2a" stroke-width="1.35" />
<line x1="457.24" y1="478.1" x2="457.24" y2="480.7" stroke="#2a2a2a" stroke-width="1.35" />
<line x1="460.16" y1="478.1" x2="460.16" y2="480.7" stroke="#2a2a2a" stroke-width="1.35" />
<line x1="462.74" y1="478.1" x2="462.74" y2="480.7" stroke="#2a2a2a" stroke-width="1.35" />
<line x1="465.05" y1="478.1" x2="465.05" y2="481.3" stroke="#2a2a2a" stroke-width="1.35" />
<line x1="480.24" y1="478.1" x2="480.24" y2="480.7" stroke="#2a2a2a" stroke-width="1.35" />
<line x1="489.12" y1="478.1" x2="489.12" y2="480.7" stroke="#2a2a2a" stroke-width="1.35" />
<line x1="495.42" y1="478.1" x2="495.42" y2="480.7" stroke="#2a2a2a" stroke-width="1.35" />
<line x1="500.31" y1="478.1" x2="500.31" y2="480.7" stroke="#2a2a2a" stroke-width="1.35" />
<line x1="504.31" y1="478.1" x2="504.31" y2="480.7" stroke="#2a2a2a" stroke-width="1.35" />
<line x1="507.69" y1="478.1" x2="507.69" y2="480.7" stroke="#2a2a2a" stroke-width="1.35" />
<line x1="510.61" y1="478.1" x2="510.61" y2="480.7" stroke="#2a2a2a" stroke-width="1.35" />
<line x1="513.19" y1="478.1" x2="513.19" y2="480.7" stroke="#2a2a2a" stroke-width="1.35" />
<line x1="515.5" y1="478.1" x2="515.5" y2="481.3" stroke="#2a2a2a" stroke-width="1.35" />
<line x1="313.7" y1="478.1" x2="313.7" y2="481.6" stroke="#2a2a2a" stroke-width="1.3" />
<rect x="313.7" y="376" width="201.8" height="102.1" fill="none" stroke="#2a2a2a" stroke-width="1.3"/>
<line x1="311.4" y1="387.1" x2="313.7" y2="387.1" stroke="#2a2a2a" stroke-width="1.2" />
<line x1="311.4" y1="380.1" x2="313.7" y2="380.1" stroke="#2a2a2a" stroke-width="1.2" />
<line x1="308.7" y1="478.1" x2="313.7" y2="478.1" stroke="#2a2a2a" stroke-width="1.3" />
<line x1="421.3" y1="438.3" x2="421.3" y2="478.1" stroke="#c9c9c9" stroke-width="0.9" />
<line x1="438" y1="438.3" x2="438" y2="478.1" stroke="#c9c9c9" stroke-width="0.9" />
<line x1="454.4" y1="438.3" x2="454.4" y2="478.1" stroke="#c9c9c9" stroke-width="0.9" />
<line x1="480.6" y1="438.3" x2="480.6" y2="478.1" stroke="#c9c9c9" stroke-width="0.9" />
<path d="M396,478.1 C396.33,477.98 396.67,477.53 398,477.4 C399.33,477.27 402.17,477.4 404,477.3 C405.83,477.2 407.62,477 409,476.8 C410.38,476.6 411.3,476.07 412.3,476.1 C413.3,476.13 413.72,476.78 415,477 C416.28,477.22 418.4,477.35 420,477.4 C421.6,477.45 423.32,477.5 424.6,477.3 C425.88,477.1 426.8,476.6 427.7,476.2 C428.6,475.8 429.28,475.22 430,474.9 C430.72,474.58 431.33,474.32 432,474.3 C432.67,474.28 433.33,474.47 434,474.8 C434.67,475.13 435.38,475.93 436,476.3 C436.62,476.67 437.12,477 437.7,477 C438.28,477 438.85,476.67 439.5,476.3 C440.15,475.93 440.85,475.35 441.6,474.8 C442.35,474.25 443.23,473.43 444,473 C444.77,472.57 445.42,472.12 446.2,472.2 C446.98,472.28 447.83,472.93 448.7,473.5 C449.57,474.07 450.58,475.12 451.4,475.6 C452.22,476.08 452.93,476.5 453.6,476.4 C454.27,476.3 454.87,475.68 455.4,475 C455.93,474.32 456.33,473.8 456.8,472.3 C457.27,470.8 457.75,468.25 458.2,466 C458.65,463.75 459.08,461.47 459.5,458.8 C459.92,456.13 460.32,453.13 460.7,450 C461.08,446.87 461.45,443.67 461.8,440 C462.15,436.33 462.5,431.82 462.8,428 C463.1,424.18 463.35,420.93 463.6,417.1 C463.85,413.27 464.08,408.37 464.3,405 C464.52,401.63 464.68,399.23 464.9,396.9 C465.12,394.57 465.37,392.73 465.6,391 C465.83,389.27 466.03,387.92 466.3,386.5 C466.57,385.08 466.92,383.38 467.2,382.5 C467.48,381.62 467.73,381.15 468,381.2 C468.27,381.25 468.53,381.92 468.8,382.8 C469.07,383.68 469.3,385.05 469.6,386.5 C469.9,387.95 470.27,389.53 470.6,391.5 C470.93,393.47 471.32,395.22 471.6,398.3 C471.88,401.38 472.07,405.75 472.3,410 C472.53,414.25 472.77,419.63 473,423.8 C473.23,427.97 473.48,431.4 473.7,435 C473.92,438.6 474.08,442.07 474.3,445.4 C474.52,448.73 474.77,451.87 475,455 C475.23,458.13 475.43,461.62 475.7,464.2 C475.97,466.78 476.27,468.7 476.6,470.5 C476.93,472.3 477.3,473.92 477.7,475 C478.1,476.08 478.52,476.48 479,477 C479.48,477.52 480.33,477.92 480.6,478.1 Z" fill="#a9a9a9" stroke="none"/>
<line x1="454.4" y1="438.3" x2="454.4" y2="478.1" stroke="#999" stroke-width="0.8" />
<path d="M396,478.1 C396.33,477.98 396.67,477.53 398,477.4 C399.33,477.27 402.17,477.4 404,477.3 C405.83,477.2 407.62,477 409,476.8 C410.38,476.6 411.3,476.07 412.3,476.1 C413.3,476.13 413.72,476.78 415,477 C416.28,477.22 418.4,477.35 420,477.4 C421.6,477.45 423.32,477.5 424.6,477.3 C425.88,477.1 426.8,476.6 427.7,476.2 C428.6,475.8 429.28,475.22 430,474.9 C430.72,474.58 431.33,474.32 432,474.3 C432.67,474.28 433.33,474.47 434,474.8 C434.67,475.13 435.38,475.93 436,476.3 C436.62,476.67 437.12,477 437.7,477 C438.28,477 438.85,476.67 439.5,476.3 C440.15,475.93 440.85,475.35 441.6,474.8 C442.35,474.25 443.23,473.43 444,473 C444.77,472.57 445.42,472.12 446.2,472.2 C446.98,472.28 447.83,472.93 448.7,473.5 C449.57,474.07 450.58,475.12 451.4,475.6 C452.22,476.08 452.93,476.5 453.6,476.4 C454.27,476.3 454.87,475.68 455.4,475 C455.93,474.32 456.33,473.8 456.8,472.3 C457.27,470.8 457.75,468.25 458.2,466 C458.65,463.75 459.08,461.47 459.5,458.8 C459.92,456.13 460.32,453.13 460.7,450 C461.08,446.87 461.45,443.67 461.8,440 C462.15,436.33 462.5,431.82 462.8,428 C463.1,424.18 463.35,420.93 463.6,417.1 C463.85,413.27 464.08,408.37 464.3,405 C464.52,401.63 464.68,399.23 464.9,396.9 C465.12,394.57 465.37,392.73 465.6,391 C465.83,389.27 466.03,387.92 466.3,386.5 C466.57,385.08 466.92,383.38 467.2,382.5 C467.48,381.62 467.73,381.15 468,381.2 C468.27,381.25 468.53,381.92 468.8,382.8 C469.07,383.68 469.3,385.05 469.6,386.5 C469.9,387.95 470.27,389.53 470.6,391.5 C470.93,393.47 471.32,395.22 471.6,398.3 C471.88,401.38 472.07,405.75 472.3,410 C472.53,414.25 472.77,419.63 473,423.8 C473.23,427.97 473.48,431.4 473.7,435 C473.92,438.6 474.08,442.07 474.3,445.4 C474.52,448.73 474.77,451.87 475,455 C475.23,458.13 475.43,461.62 475.7,464.2 C475.97,466.78 476.27,468.7 476.6,470.5 C476.93,472.3 477.3,473.92 477.7,475 C478.1,476.08 478.52,476.48 479,477 C479.48,477.52 480.33,477.92 480.6,478.1" fill="none" stroke="#2a2a2a" stroke-width="1.3" stroke-linejoin="round"/>
<text x="0" y="0" font-size="20.3" text-anchor="start" font-weight="normal" font-style="normal" fill="#111" transform="translate(60.8,501.7) scale(1.03,1)" >CFSE</text>
<line x1="125" y1="492.9" x2="396" y2="492.9" stroke="#000" stroke-width="1.5" />
<polygon points="394.8,487.8 409.8,492.9 394.8,498.0" fill="#000"/>
<line x1="61" y1="523.5" x2="61" y2="802.7" stroke="#9e9e9e" stroke-width="1.2" />
<line x1="54.2" y1="802.7" x2="253" y2="802.7" stroke="#9e9e9e" stroke-width="1.2" />
<line x1="54.2" y1="802.7" x2="61" y2="802.7" stroke="#9e9e9e" stroke-width="1.2" />
<line x1="57.6" y1="788.74" x2="61" y2="788.74" stroke="#9e9e9e" stroke-width="1" />
<line x1="57.6" y1="774.78" x2="61" y2="774.78" stroke="#9e9e9e" stroke-width="1" />
<line x1="57.6" y1="760.82" x2="61" y2="760.82" stroke="#9e9e9e" stroke-width="1" />
<line x1="54.2" y1="746.86" x2="61" y2="746.86" stroke="#9e9e9e" stroke-width="1.2" />
<line x1="57.6" y1="732.9" x2="61" y2="732.9" stroke="#9e9e9e" stroke-width="1" />
<line x1="57.6" y1="718.94" x2="61" y2="718.94" stroke="#9e9e9e" stroke-width="1" />
<line x1="57.6" y1="704.98" x2="61" y2="704.98" stroke="#9e9e9e" stroke-width="1" />
<line x1="54.2" y1="691.02" x2="61" y2="691.02" stroke="#9e9e9e" stroke-width="1.2" />
<line x1="57.6" y1="677.06" x2="61" y2="677.06" stroke="#9e9e9e" stroke-width="1" />
<line x1="57.6" y1="663.1" x2="61" y2="663.1" stroke="#9e9e9e" stroke-width="1" />
<line x1="57.6" y1="649.14" x2="61" y2="649.14" stroke="#9e9e9e" stroke-width="1" />
<line x1="54.2" y1="635.18" x2="61" y2="635.18" stroke="#9e9e9e" stroke-width="1.2" />
<line x1="57.6" y1="621.22" x2="61" y2="621.22" stroke="#9e9e9e" stroke-width="1" />
<line x1="57.6" y1="607.26" x2="61" y2="607.26" stroke="#9e9e9e" stroke-width="1" />
<line x1="57.6" y1="593.3" x2="61" y2="593.3" stroke="#9e9e9e" stroke-width="1" />
<line x1="54.2" y1="579.34" x2="61" y2="579.34" stroke="#9e9e9e" stroke-width="1.2" />
<line x1="57.6" y1="565.38" x2="61" y2="565.38" stroke="#9e9e9e" stroke-width="1" />
<line x1="57.6" y1="551.42" x2="61" y2="551.42" stroke="#9e9e9e" stroke-width="1" />
<line x1="57.6" y1="537.46" x2="61" y2="537.46" stroke="#9e9e9e" stroke-width="1" />
<line x1="54.2" y1="523.5" x2="61" y2="523.5" stroke="#9e9e9e" stroke-width="1.2" />
<line x1="76.7" y1="802.7" x2="76.7" y2="809.4" stroke="#9e9e9e" stroke-width="1.2" />
<text x="71.06" y="828.7" font-size="20.3" text-anchor="start" font-weight="normal" font-style="normal" fill="#111" >5</text>
<line x1="108.76" y1="802.7" x2="108.76" y2="809.4" stroke="#9e9e9e" stroke-width="1.2" />
<text x="103.12" y="828.7" font-size="20.3" text-anchor="start" font-weight="normal" font-style="normal" fill="#111" >4</text>
<line x1="140.82" y1="802.7" x2="140.82" y2="809.4" stroke="#9e9e9e" stroke-width="1.2" />
<text x="135.18" y="828.7" font-size="20.3" text-anchor="start" font-weight="normal" font-style="normal" fill="#111" >3</text>
<line x1="172.88" y1="802.7" x2="172.88" y2="809.4" stroke="#9e9e9e" stroke-width="1.2" />
<text x="167.24" y="828.7" font-size="20.3" text-anchor="start" font-weight="normal" font-style="normal" fill="#111" >2</text>
<line x1="204.94" y1="802.7" x2="204.94" y2="809.4" stroke="#9e9e9e" stroke-width="1.2" />
<path d="M0.3726,0 L0.2847,0 L0.2847,-0.56 Q0.2529,-0.5298 0.2014,-0.4995 Q0.1499,-0.4692 0.1089,-0.4541 L0.1089,-0.5391 Q0.1826,-0.5737 0.2371,-0.6223 Q0.2915,-0.6709 0.3159,-0.7158 L0.3726,-0.7158 Z" transform="translate(199.3,828.7) scale(20.3,20.3)" fill="#111" stroke="#111" stroke-width="0.02"/>
<line x1="237" y1="802.7" x2="237" y2="809.4" stroke="#9e9e9e" stroke-width="1.2" />
<text x="231.36" y="828.7" font-size="20.3" text-anchor="start" font-weight="normal" font-style="normal" fill="#111" >0</text>
<text x="0" y="0" font-size="20.3" text-anchor="start" font-weight="normal" font-style="normal" fill="#111" transform="translate(39.57,808.7) scale(1.03,1)" >0</text>
<text x="0" y="0" font-size="20.3" text-anchor="start" font-weight="normal" font-style="normal" fill="#111" transform="translate(27.95,752.86) scale(1.03,1)" >2</text>
<text x="0" y="0" font-size="20.3" text-anchor="start" font-weight="normal" font-style="normal" fill="#111" transform="translate(39.57,752.86) scale(1.03,1)" >0</text>
<text x="0" y="0" font-size="20.3" text-anchor="start" font-weight="normal" font-style="normal" fill="#111" transform="translate(27.95,697.02) scale(1.03,1)" >4</text>
<text x="0" y="0" font-size="20.3" text-anchor="start" font-weight="normal" font-style="normal" fill="#111" transform="translate(39.57,697.02) scale(1.03,1)" >0</text>
<text x="0" y="0" font-size="20.3" text-anchor="start" font-weight="normal" font-style="normal" fill="#111" transform="translate(27.95,641.18) scale(1.03,1)" >6</text>
<text x="0" y="0" font-size="20.3" text-anchor="start" font-weight="normal" font-style="normal" fill="#111" transform="translate(39.57,641.18) scale(1.03,1)" >0</text>
<text x="0" y="0" font-size="20.3" text-anchor="start" font-weight="normal" font-style="normal" fill="#111" transform="translate(27.95,585.34) scale(1.03,1)" >8</text>
<text x="0" y="0" font-size="20.3" text-anchor="start" font-weight="normal" font-style="normal" fill="#111" transform="translate(39.57,585.34) scale(1.03,1)" >0</text>
<path d="M0.3726,0 L0.2847,0 L0.2847,-0.56 Q0.2529,-0.5298 0.2014,-0.4995 Q0.1499,-0.4692 0.1089,-0.4541 L0.1089,-0.5391 Q0.1826,-0.5737 0.2371,-0.6223 Q0.2915,-0.6709 0.3159,-0.7158 L0.3726,-0.7158 Z" transform="translate(16.32,529.5) scale(20.91,20.3)" fill="#111" stroke="#111" stroke-width="0.02"/>
<text x="0" y="0" font-size="20.3" text-anchor="start" font-weight="normal" font-style="normal" fill="#111" transform="translate(27.95,529.5) scale(1.03,1)" >0</text>
<text x="0" y="0" font-size="20.3" text-anchor="start" font-weight="normal" font-style="normal" fill="#111" transform="translate(39.57,529.5) scale(1.03,1)" >0</text>
<polyline points="76.7,676.5 108.76,670.2 140.82,667.7 172.88,664.6 204.94,665.2 237,658.4" fill="none" stroke="#000" stroke-width="1.75" stroke-dasharray="4.4,5" stroke-dashoffset="4.6"/>
<polyline points="108.76,636.4 140.82,614.4 172.88,590 204.94,582.5 237,552.8" fill="none" stroke="#000" stroke-width="1.75" stroke-dasharray="4.4,5" stroke-dashoffset="4.6"/>
<polyline points="108.76,641.8 140.82,632.5 172.88,627.4 204.94,620 237,602.1" fill="none" stroke="#000" stroke-width="1.9"/>
<line x1="108.76" y1="662.5" x2="108.76" y2="677.5" stroke="#3a3a3a" stroke-width="2" />
<line x1="105.56" y1="662.5" x2="111.96" y2="662.5" stroke="#3a3a3a" stroke-width="2" />
<line x1="105.56" y1="677.5" x2="111.96" y2="677.5" stroke="#3a3a3a" stroke-width="2" />
<line x1="140.82" y1="659" x2="140.82" y2="676.2" stroke="#3a3a3a" stroke-width="2" />
<line x1="137.62" y1="659" x2="144.02" y2="659" stroke="#3a3a3a" stroke-width="2" />
<line x1="137.62" y1="676.2" x2="144.02" y2="676.2" stroke="#3a3a3a" stroke-width="2" />
<line x1="172.88" y1="654" x2="172.88" y2="674.6" stroke="#3a3a3a" stroke-width="2" />
<line x1="169.68" y1="654" x2="176.08" y2="654" stroke="#3a3a3a" stroke-width="2" />
<line x1="169.68" y1="674.6" x2="176.08" y2="674.6" stroke="#3a3a3a" stroke-width="2" />
<line x1="204.94" y1="656" x2="204.94" y2="674.2" stroke="#3a3a3a" stroke-width="2" />
<line x1="201.74" y1="656" x2="208.14" y2="656" stroke="#3a3a3a" stroke-width="2" />
<line x1="201.74" y1="674.2" x2="208.14" y2="674.2" stroke="#3a3a3a" stroke-width="2" />
<line x1="237" y1="646.3" x2="237" y2="669.8" stroke="#3a3a3a" stroke-width="2" />
<line x1="233.8" y1="646.3" x2="240.2" y2="646.3" stroke="#3a3a3a" stroke-width="2" />
<line x1="233.8" y1="669.8" x2="240.2" y2="669.8" stroke="#3a3a3a" stroke-width="2" />
<line x1="108.76" y1="618.3" x2="108.76" y2="654.4" stroke="#3a3a3a" stroke-width="2" />
<line x1="105.56" y1="618.3" x2="111.96" y2="618.3" stroke="#3a3a3a" stroke-width="2" />
<line x1="105.56" y1="654.4" x2="111.96" y2="654.4" stroke="#3a3a3a" stroke-width="2" />
<line x1="140.82" y1="589.1" x2="140.82" y2="639.7" stroke="#3a3a3a" stroke-width="2" />
<line x1="137.62" y1="589.1" x2="144.02" y2="589.1" stroke="#3a3a3a" stroke-width="2" />
<line x1="137.62" y1="639.7" x2="144.02" y2="639.7" stroke="#3a3a3a" stroke-width="2" />
<line x1="172.88" y1="574.7" x2="172.88" y2="605.7" stroke="#3a3a3a" stroke-width="2" />
<line x1="169.68" y1="574.7" x2="176.08" y2="574.7" stroke="#3a3a3a" stroke-width="2" />
<line x1="169.68" y1="605.7" x2="176.08" y2="605.7" stroke="#3a3a3a" stroke-width="2" />
<line x1="204.94" y1="571.7" x2="204.94" y2="592.6" stroke="#3a3a3a" stroke-width="2" />
<line x1="201.74" y1="571.7" x2="208.14" y2="571.7" stroke="#3a3a3a" stroke-width="2" />
<line x1="201.74" y1="592.6" x2="208.14" y2="592.6" stroke="#3a3a3a" stroke-width="2" />
<line x1="237" y1="544.1" x2="237" y2="561.6" stroke="#3a3a3a" stroke-width="2" />
<line x1="233.8" y1="544.1" x2="240.2" y2="544.1" stroke="#3a3a3a" stroke-width="2" />
<line x1="233.8" y1="561.6" x2="240.2" y2="561.6" stroke="#3a3a3a" stroke-width="2" />
<line x1="108.76" y1="625.9" x2="108.76" y2="657.3" stroke="#3a3a3a" stroke-width="2" />
<line x1="105.56" y1="625.9" x2="111.96" y2="625.9" stroke="#3a3a3a" stroke-width="2" />
<line x1="105.56" y1="657.3" x2="111.96" y2="657.3" stroke="#3a3a3a" stroke-width="2" />
<line x1="140.82" y1="613" x2="140.82" y2="652" stroke="#3a3a3a" stroke-width="2" />
<line x1="137.62" y1="613" x2="144.02" y2="613" stroke="#3a3a3a" stroke-width="2" />
<line x1="137.62" y1="652" x2="144.02" y2="652" stroke="#3a3a3a" stroke-width="2" />
<line x1="172.88" y1="611.7" x2="172.88" y2="643.5" stroke="#3a3a3a" stroke-width="2" />
<line x1="169.68" y1="611.7" x2="176.08" y2="611.7" stroke="#3a3a3a" stroke-width="2" />
<line x1="169.68" y1="643.5" x2="176.08" y2="643.5" stroke="#3a3a3a" stroke-width="2" />
<line x1="204.94" y1="604.6" x2="204.94" y2="635.4" stroke="#3a3a3a" stroke-width="2" />
<line x1="201.74" y1="604.6" x2="208.14" y2="604.6" stroke="#3a3a3a" stroke-width="2" />
<line x1="201.74" y1="635.4" x2="208.14" y2="635.4" stroke="#3a3a3a" stroke-width="2" />
<line x1="237" y1="586.7" x2="237" y2="617.5" stroke="#3a3a3a" stroke-width="2" />
<line x1="233.8" y1="586.7" x2="240.2" y2="586.7" stroke="#3a3a3a" stroke-width="2" />
<line x1="233.8" y1="617.5" x2="240.2" y2="617.5" stroke="#3a3a3a" stroke-width="2" />
<rect x="70.9" y="670.7" width="11.6" height="11.6" fill="#000"/>
<rect x="102.96" y="664.4" width="11.6" height="11.6" fill="#000"/>
<rect x="135.02" y="661.9" width="11.6" height="11.6" fill="#000"/>
<rect x="167.08" y="658.8" width="11.6" height="11.6" fill="#000"/>
<rect x="199.14" y="659.4" width="11.6" height="11.6" fill="#000"/>
<rect x="231.2" y="652.6" width="11.6" height="11.6" fill="#000"/>
<rect x="103.41" y="631.05" width="10.7" height="10.7" fill="#fff" stroke="#aaa" stroke-width="1.1"/>
<rect x="135.47" y="609.05" width="10.7" height="10.7" fill="#fff" stroke="#aaa" stroke-width="1.1"/>
<rect x="167.53" y="584.65" width="10.7" height="10.7" fill="#fff" stroke="#aaa" stroke-width="1.1"/>
<rect x="199.59" y="577.15" width="10.7" height="10.7" fill="#fff" stroke="#aaa" stroke-width="1.1"/>
<rect x="231.65" y="547.45" width="10.7" height="10.7" fill="#fff" stroke="#aaa" stroke-width="1.1"/>
<rect x="103.46" y="636.5" width="10.6" height="10.6" fill="#fff" stroke="#aaa" stroke-width="1"/>
<polygon points="102.96,647.6 114.56,636 114.56,647.6" fill="#000"/>
<rect x="135.52" y="627.2" width="10.6" height="10.6" fill="#fff" stroke="#aaa" stroke-width="1"/>
<polygon points="135.02,638.3 146.62,626.7 146.62,638.3" fill="#000"/>
<rect x="167.58" y="622.1" width="10.6" height="10.6" fill="#fff" stroke="#aaa" stroke-width="1"/>
<polygon points="167.08,633.2 178.68,621.6 178.68,633.2" fill="#000"/>
<rect x="199.64" y="614.7" width="10.6" height="10.6" fill="#fff" stroke="#aaa" stroke-width="1"/>
<polygon points="199.14,625.8 210.74,614.2 210.74,625.8" fill="#000"/>
<rect x="231.7" y="596.8" width="10.6" height="10.6" fill="#fff" stroke="#aaa" stroke-width="1"/>
<polygon points="231.2,607.9 242.8,596.3 242.8,607.9" fill="#000"/>
<text x="0" y="0" font-size="21.3" text-anchor="start" font-weight="normal" font-style="normal" fill="#111" transform="translate(16.8,777) rotate(-90) scale(1,1)" >TCR Expression (% WT)</text>
<text x="0" y="0" font-size="20.3" text-anchor="start" font-weight="normal" font-style="normal" fill="#111" transform="translate(256,852.7) scale(1.04,1)" >Division</text>
<line x1="312" y1="522.5" x2="312" y2="801.5" stroke="#9e9e9e" stroke-width="1.2" />
<line x1="305.2" y1="801.5" x2="504" y2="801.5" stroke="#9e9e9e" stroke-width="1.2" />
<line x1="305.2" y1="801.5" x2="312" y2="801.5" stroke="#9e9e9e" stroke-width="1.2" />
<line x1="308.6" y1="787.55" x2="312" y2="787.55" stroke="#9e9e9e" stroke-width="1" />
<line x1="308.6" y1="773.6" x2="312" y2="773.6" stroke="#9e9e9e" stroke-width="1" />
<line x1="308.6" y1="759.65" x2="312" y2="759.65" stroke="#9e9e9e" stroke-width="1" />
<line x1="305.2" y1="745.7" x2="312" y2="745.7" stroke="#9e9e9e" stroke-width="1.2" />
<line x1="308.6" y1="731.75" x2="312" y2="731.75" stroke="#9e9e9e" stroke-width="1" />
<line x1="308.6" y1="717.8" x2="312" y2="717.8" stroke="#9e9e9e" stroke-width="1" />
<line x1="308.6" y1="703.85" x2="312" y2="703.85" stroke="#9e9e9e" stroke-width="1" />
<line x1="305.2" y1="689.9" x2="312" y2="689.9" stroke="#9e9e9e" stroke-width="1.2" />
<line x1="308.6" y1="675.95" x2="312" y2="675.95" stroke="#9e9e9e" stroke-width="1" />
<line x1="308.6" y1="662" x2="312" y2="662" stroke="#9e9e9e" stroke-width="1" />
<line x1="308.6" y1="648.05" x2="312" y2="648.05" stroke="#9e9e9e" stroke-width="1" />
<line x1="305.2" y1="634.1" x2="312" y2="634.1" stroke="#9e9e9e" stroke-width="1.2" />
<line x1="308.6" y1="620.15" x2="312" y2="620.15" stroke="#9e9e9e" stroke-width="1" />
<line x1="308.6" y1="606.2" x2="312" y2="606.2" stroke="#9e9e9e" stroke-width="1" />
<line x1="308.6" y1="592.25" x2="312" y2="592.25" stroke="#9e9e9e" stroke-width="1" />
<line x1="305.2" y1="578.3" x2="312" y2="578.3" stroke="#9e9e9e" stroke-width="1.2" />
<line x1="308.6" y1="564.35" x2="312" y2="564.35" stroke="#9e9e9e" stroke-width="1" />
<line x1="308.6" y1="550.4" x2="312" y2="550.4" stroke="#9e9e9e" stroke-width="1" />
<line x1="308.6" y1="536.45" x2="312" y2="536.45" stroke="#9e9e9e" stroke-width="1" />
<line x1="305.2" y1="522.5" x2="312" y2="522.5" stroke="#9e9e9e" stroke-width="1.2" />
<line x1="328.5" y1="801.5" x2="328.5" y2="808.2" stroke="#9e9e9e" stroke-width="1.2" />
<text x="322.86" y="827.5" font-size="20.3" text-anchor="start" font-weight="normal" font-style="normal" fill="#111" >5</text>
<line x1="360.5" y1="801.5" x2="360.5" y2="808.2" stroke="#9e9e9e" stroke-width="1.2" />
<text x="354.86" y="827.5" font-size="20.3" text-anchor="start" font-weight="normal" font-style="normal" fill="#111" >4</text>
<line x1="392.5" y1="801.5" x2="392.5" y2="808.2" stroke="#9e9e9e" stroke-width="1.2" />
<text x="386.86" y="827.5" font-size="20.3" text-anchor="start" font-weight="normal" font-style="normal" fill="#111" >3</text>
<line x1="424.5" y1="801.5" x2="424.5" y2="808.2" stroke="#9e9e9e" stroke-width="1.2" />
<text x="418.86" y="827.5" font-size="20.3" text-anchor="start" font-weight="normal" font-style="normal" fill="#111" >2</text>
<line x1="456.5" y1="801.5" x2="456.5" y2="808.2" stroke="#9e9e9e" stroke-width="1.2" />
<path d="M0.3726,0 L0.2847,0 L0.2847,-0.56 Q0.2529,-0.5298 0.2014,-0.4995 Q0.1499,-0.4692 0.1089,-0.4541 L0.1089,-0.5391 Q0.1826,-0.5737 0.2371,-0.6223 Q0.2915,-0.6709 0.3159,-0.7158 L0.3726,-0.7158 Z" transform="translate(450.86,827.5) scale(20.3,20.3)" fill="#111" stroke="#111" stroke-width="0.02"/>
<line x1="488.5" y1="801.5" x2="488.5" y2="808.2" stroke="#9e9e9e" stroke-width="1.2" />
<text x="482.86" y="827.5" font-size="20.3" text-anchor="start" font-weight="normal" font-style="normal" fill="#111" >0</text>
<text x="0" y="0" font-size="20.3" text-anchor="start" font-weight="normal" font-style="normal" fill="#111" transform="translate(290.27,807.5) scale(1.03,1)" >0</text>
<text x="0" y="0" font-size="20.3" text-anchor="start" font-weight="normal" font-style="normal" fill="#111" transform="translate(278.65,751.7) scale(1.03,1)" >2</text>
<text x="0" y="0" font-size="20.3" text-anchor="start" font-weight="normal" font-style="normal" fill="#111" transform="translate(290.27,751.7) scale(1.03,1)" >0</text>
<text x="0" y="0" font-size="20.3" text-anchor="start" font-weight="normal" font-style="normal" fill="#111" transform="translate(278.65,695.9) scale(1.03,1)" >4</text>
<text x="0" y="0" font-size="20.3" text-anchor="start" font-weight="normal" font-style="normal" fill="#111" transform="translate(290.27,695.9) scale(1.03,1)" >0</text>
<text x="0" y="0" font-size="20.3" text-anchor="start" font-weight="normal" font-style="normal" fill="#111" transform="translate(278.65,640.1) scale(1.03,1)" >6</text>
<text x="0" y="0" font-size="20.3" text-anchor="start" font-weight="normal" font-style="normal" fill="#111" transform="translate(290.27,640.1) scale(1.03,1)" >0</text>
<text x="0" y="0" font-size="20.3" text-anchor="start" font-weight="normal" font-style="normal" fill="#111" transform="translate(278.65,584.3) scale(1.03,1)" >8</text>
<text x="0" y="0" font-size="20.3" text-anchor="start" font-weight="normal" font-style="normal" fill="#111" transform="translate(290.27,584.3) scale(1.03,1)" >0</text>
<path d="M0.3726,0 L0.2847,0 L0.2847,-0.56 Q0.2529,-0.5298 0.2014,-0.4995 Q0.1499,-0.4692 0.1089,-0.4541 L0.1089,-0.5391 Q0.1826,-0.5737 0.2371,-0.6223 Q0.2915,-0.6709 0.3159,-0.7158 L0.3726,-0.7158 Z" transform="translate(267.02,528.5) scale(20.91,20.3)" fill="#111" stroke="#111" stroke-width="0.02"/>
<text x="0" y="0" font-size="20.3" text-anchor="start" font-weight="normal" font-style="normal" fill="#111" transform="translate(278.65,528.5) scale(1.03,1)" >0</text>
<text x="0" y="0" font-size="20.3" text-anchor="start" font-weight="normal" font-style="normal" fill="#111" transform="translate(290.27,528.5) scale(1.03,1)" >0</text>
<polyline points="424.5,630.3 456.5,606.2 488.5,585.4" fill="none" stroke="#000" stroke-width="1.6" stroke-dasharray="4.4,5" stroke-dashoffset="4.6"/>
<line x1="456.5" y1="606.2" x2="456.5" y2="624.8" stroke="#222" stroke-width="1.2" />
<line x1="453.6" y1="606.2" x2="459.4" y2="606.2" stroke="#222" stroke-width="1.2" />
<line x1="453.6" y1="624.8" x2="459.4" y2="624.8" stroke="#222" stroke-width="1.2" />
<line x1="488.5" y1="585.4" x2="488.5" y2="601.3" stroke="#222" stroke-width="1.2" />
<line x1="485.6" y1="585.4" x2="491.4" y2="585.4" stroke="#222" stroke-width="1.2" />
<line x1="485.6" y1="601.3" x2="491.4" y2="601.3" stroke="#222" stroke-width="1.2" />
<rect x="418.7" y="624.5" width="11.6" height="11.6" fill="#000"/>
<rect x="450.7" y="600.4" width="11.6" height="11.6" fill="#000"/>
<rect x="482.7" y="579.6" width="11.6" height="11.6" fill="#000"/>
<line x1="456.5" y1="547.1" x2="456.5" y2="583.4" stroke="#222" stroke-width="1.2" />
<line x1="453.6" y1="547.1" x2="459.4" y2="547.1" stroke="#222" stroke-width="1.2" />
<line x1="453.6" y1="583.4" x2="459.4" y2="583.4" stroke="#222" stroke-width="1.2" />
<line x1="488.5" y1="536" x2="488.5" y2="556.4" stroke="#222" stroke-width="1.2" />
<line x1="485.6" y1="536" x2="491.4" y2="536" stroke="#222" stroke-width="1.2" />
<line x1="485.6" y1="556.4" x2="491.4" y2="556.4" stroke="#222" stroke-width="1.2" />
<polyline points="456.5,583.4 488.5,556.4" fill="none" stroke="#000" stroke-width="1.7"/>
<rect x="451.2" y="578.1" width="10.6" height="10.6" fill="#fff" stroke="#777" stroke-width="1"/>
<polygon points="450.7,589.2 462.3,577.6 462.3,589.2" fill="#000"/>
<rect x="483.2" y="551.1" width="10.6" height="10.6" fill="#fff" stroke="#777" stroke-width="1"/>
<polygon points="482.7,562.2 494.3,550.6 494.3,562.2" fill="#000"/>
</svg>
</body></html>
